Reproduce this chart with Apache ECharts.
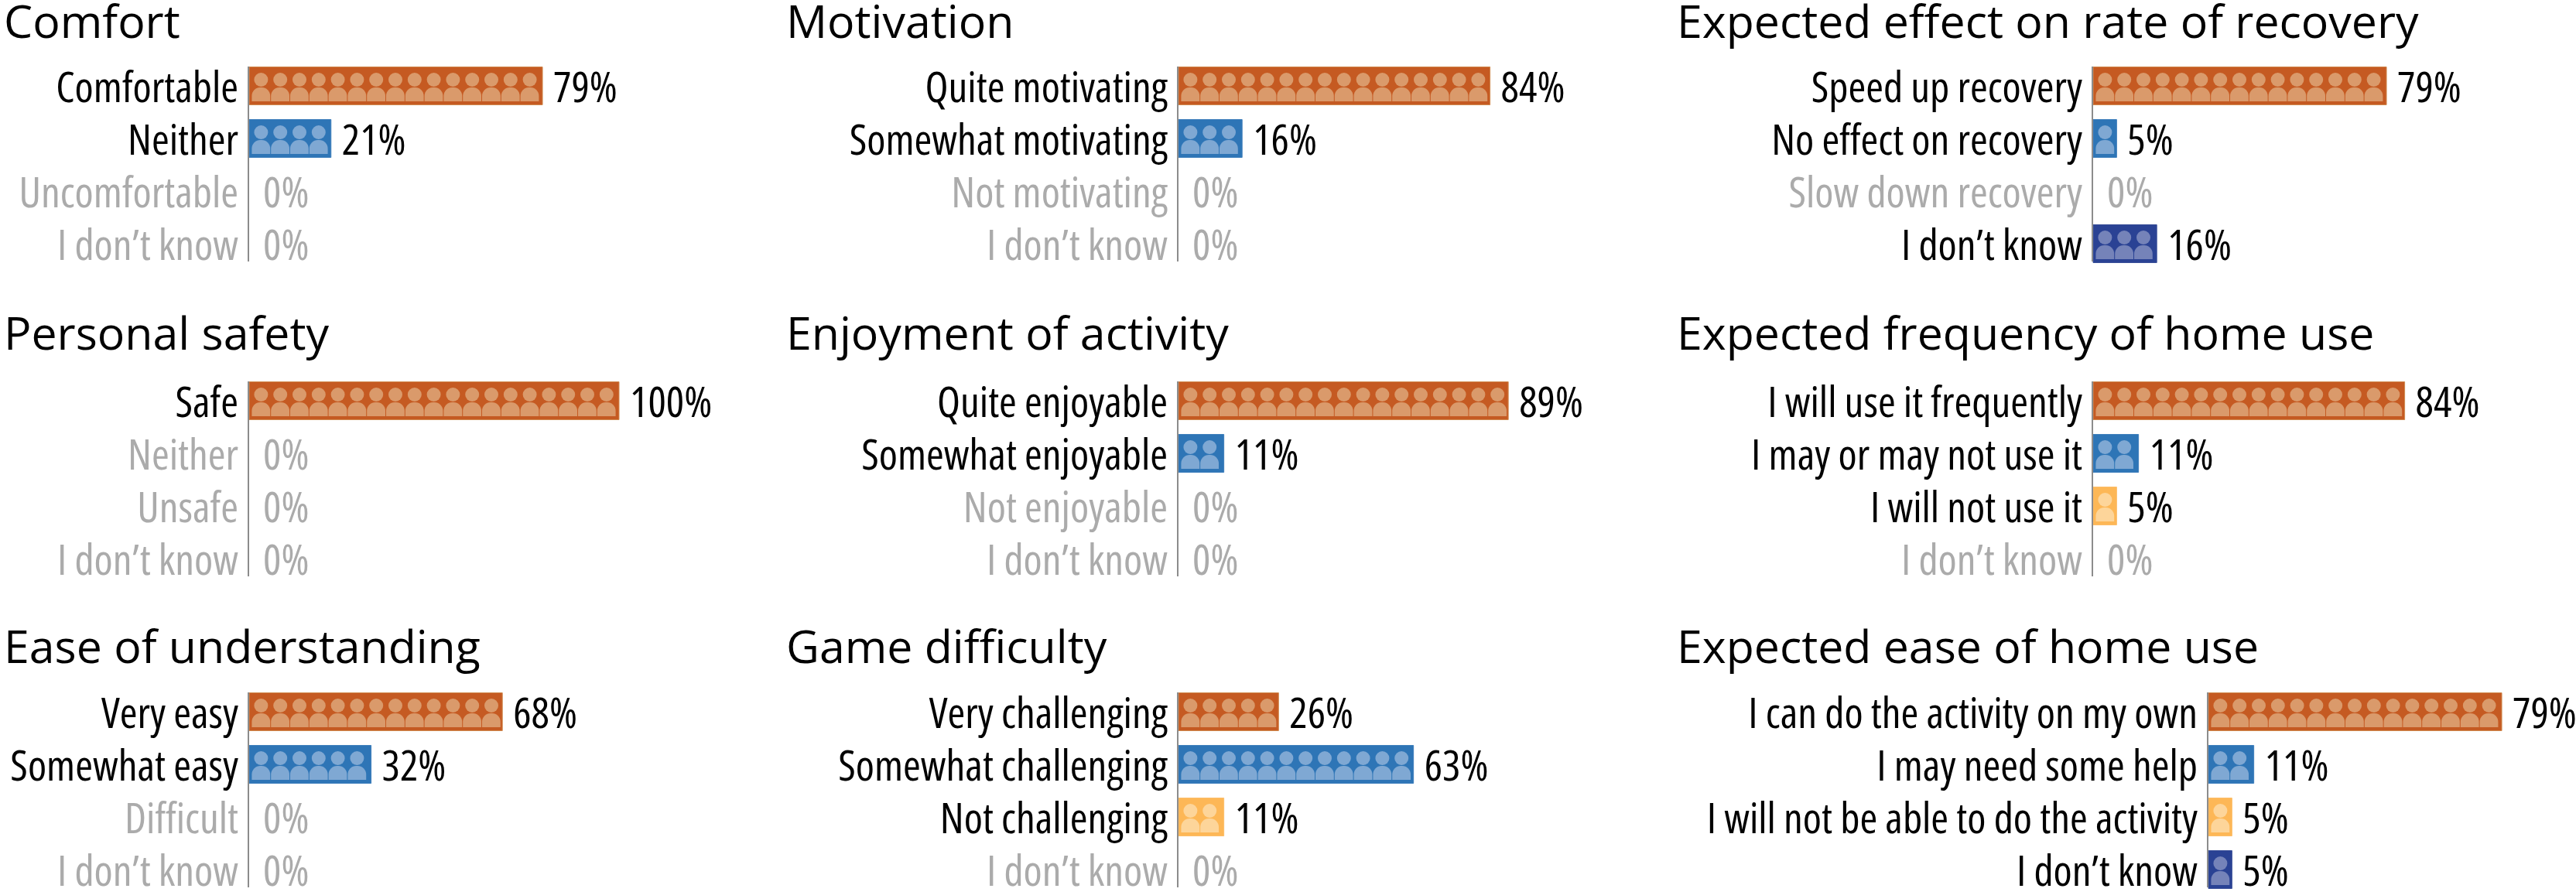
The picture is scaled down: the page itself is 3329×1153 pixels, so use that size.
<!DOCTYPE html>
<html><head><meta charset="utf-8">
<style>html,body{margin:0;background:#fff}#c{width:3329px;height:1153px}</style>
<script src="https://cdn.jsdelivr.net/npm/echarts@6/dist/echarts.min.js"></script>
</head><body><div id="c"></div>
<script>
const titles = ['Comfort','Personal safety','Ease of understanding','Motivation','Enjoyment of activity','Game difficulty','Expected effect on rate of recovery','Expected frequency of home use','Expected ease of home use'];
const comfortCats = ['Comfortable','Neither','Uncomfortable','I don\u2019t know'];
const comfortVals = [79,21,0,0];
const safetyCats = ['Safe','Neither','Unsafe','I don\u2019t know'];
const safetyVals = [100,0,0,0];
const understandCats = ['Very easy','Somewhat easy','Difficult','I don\u2019t know'];
const understandVals = [68,32,0,0];
const motivationCats = ['Quite motivating','Somewhat motivating','Not motivating','I don\u2019t know'];
const motivationVals = [84,16,0,0];
const enjoyCats = ['Quite enjoyable','Somewhat enjoyable','Not enjoyable','I don\u2019t know'];
const enjoyVals = [89,11,0,0];
const difficultyCats = ['Very challenging','Somewhat challenging','Not challenging','I don\u2019t know'];
const difficultyVals = [26,63,11,0];
const recoveryCats = ['Speed up recovery','No effect on recovery','Slow down recovery','I don\u2019t know'];
const recoveryVals = [79,5,0,16];
const frequencyCats = ['I will use it frequently','I may or may not use it','I will not use it','I don\u2019t know'];
const frequencyVals = [84,11,5,0];
const easeCats = ['I can do the activity on my own','I may need some help','I will not be able to do the activity','I don\u2019t know'];
const easeVals = [79,11,5,5];
const respondents = 19;

const panelCats = [comfortCats,safetyCats,understandCats,motivationCats,enjoyCats,difficultyCats,recoveryCats,frequencyCats,easeCats];
const panelVals = [comfortVals,safetyVals,understandVals,motivationVals,enjoyVals,difficultyVals,recoveryVals,frequencyVals,easeVals];
const axisX = [321,321,321,1522,1522,1522,2704,2704,2853];
const firstRowY = [111,518,920,111,518,920,111,518,920];
const titleX = [5,5,5,1016,1016,1016,2167,2167,2167];
const titleY = [32,435,840,32,435,840,32,435,840];

const FAMILY = '"Open Sans","Noto Sans",sans-serif';
const fills = ['#C55A22','#2E75B6','#FDB756','#2A4294'];
const people = ['#DA9A6B','#7FA8D3','#FDD59A','#7583B9'];
const edges = ['#D08A50','#3F7FBC','#FDBE6A','#3A5099'];
const ROW = 68, PW = 24.8, PAD = 3.4, BARH = 49, XMAX = 120;
const plotW = PW * respondents / 100 * XMAX;

function renderRow(params, api){
  const i = api.value(1), v = api.value(0);
  const c = api.coord([0, i]), e = api.coord([v, i]);
  const n = Math.round(v * respondents / 100);
  const kids = [];
  const up = i === 0 ? -25 : -ROW/2, dn = i === 3 ? 23 : ROW/2;
  if (n > 0) {
    const top = c[1] - BARH/2;
    const w = (e[0] - c[0]) + 2*PAD;
    kids.push({type:'rect',shape:{x:c[0]+1,y:top,width:w,height:BARH},style:{fill:fills[i],stroke:edges[i],lineWidth:1}});
    for (let k = 0; k < n; k++) {
      const px = api.coord([k*100/respondents, i])[0] + PAD + 1;
      kids.push({type:'circle',shape:{cx:px+PW/2-0.4,cy:top+16.5,r:9},style:{fill:people[i]}});
      kids.push({type:'rect',shape:{x:px,y:top+26.5,width:PW-1,height:18,r:[11,11,0,0]},style:{fill:people[i]}});
    }
  }
  kids.push({type:'line',shape:{x1:c[0],y1:c[1]+up,x2:c[0],y2:c[1]+dn},style:{stroke:'#8C8C8C',lineWidth:2}});
  const lx = n > 0 ? e[0] + 2*PAD + 15 : c[0] + 19;
  kids.push({type:'text',x:lx,y:c[1]+5,style:{text:v+'%',fill:v>0?'#000':'#ABABAB',font:'condensed 55px '+FAMILY,textAlign:'left',textVerticalAlign:'middle'}});
  return {type:'group',children:kids};
}

const grid=[],xAxis=[],yAxis=[],series=[],title=[];
panelCats.forEach((cats,p)=>{
  grid.push({left:axisX[p],top:firstRowY[p]-ROW/2,width:plotW,height:ROW*4,containLabel:false,outerBoundsMode:'none'});
  xAxis.push({gridIndex:p,type:'value',min:0,max:XMAX,show:false});
  yAxis.push({gridIndex:p,type:'category',inverse:true,data:cats,
    axisLine:{show:false},axisTick:{show:false},
    axisLabel:{interval:0,margin:13,verticalAlign:'top',lineHeight:10,fontStyle:'condensed',fontFamily:FAMILY,fontSize:55,hideOverlap:false,
      color:(val,idx)=>panelVals[p][cats.indexOf(val)]>0?'#000':'#ABABAB'}});
  series.push({type:'custom',xAxisIndex:p,yAxisIndex:p,clip:false,animation:false,silent:true,
    encode:{x:0,y:1},data:panelVals[p].map((v,i)=>[v,i]),renderItem:renderRow});
  title.push({text:titles[p],left:titleX[p],top:titleY[p]-36,padding:0,
    textStyle:{fontFamily:FAMILY,fontWeight:'normal',fontSize:59,color:'#000',lineHeight:72}});
});
const chart = echarts.init(document.getElementById('c'),null,{renderer:'canvas'});
chart.setOption({animation:false,backgroundColor:'#fff',title,grid,xAxis,yAxis,series});
</script></body></html>
